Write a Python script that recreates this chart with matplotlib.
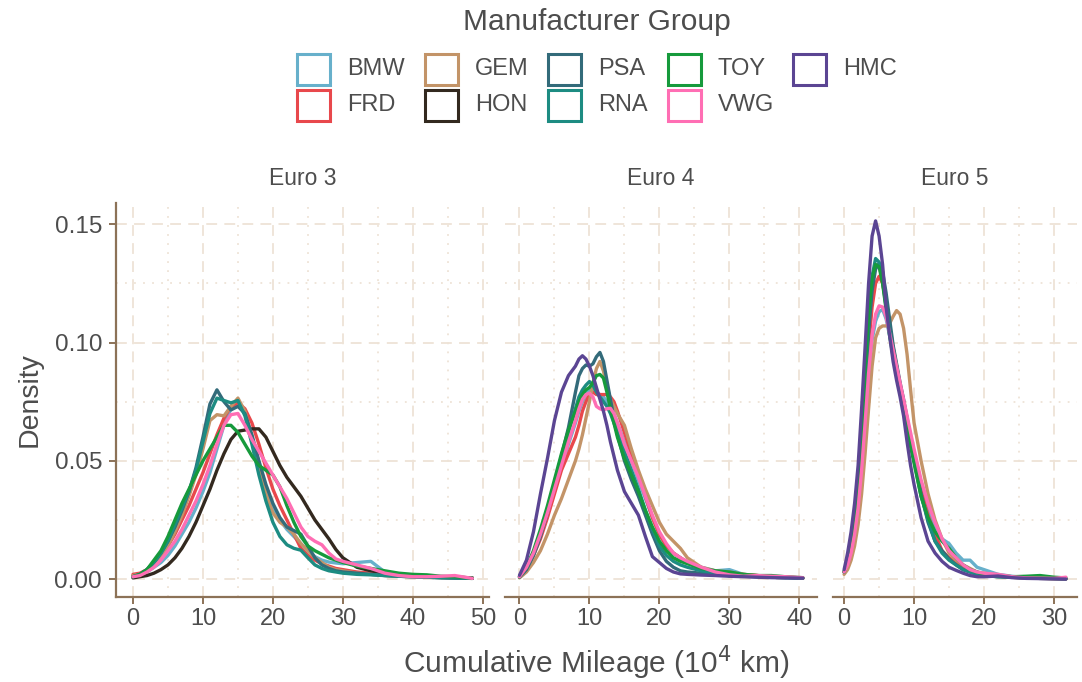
import matplotlib
matplotlib.use("Agg")
import matplotlib.pyplot as plt
from matplotlib.patches import Rectangle
from matplotlib.ticker import MultipleLocator

plt.rcParams['font.family'] = ['Liberation Sans', 'DejaVu Sans']

# ---------------- data ----------------
groups = ["BMW", "FRD", "GEM", "HON", "PSA", "RNA", "TOY", "VWG", "HMC"]
group_colors = ["#67B0CB", "#E8484C", "#C39468", "#33291F", "#336B7A",
                "#1D8C82", "#169A3C", "#FF6EB4", "#5B4593"]
panels = ["Euro 3", "Euro 4", "Euro 5"]

# Euro 3 (cumulative mileage, 10^4 km)
e3_x = [0, 1, 2, 3, 4, 5, 6, 7, 8, 9, 10, 11, 12, 13, 14, 15, 16, 17, 18, 19, 20,
        21, 22, 23, 24, 25, 26, 27, 28, 29, 30, 32, 34, 36, 38, 40, 42, 44, 46, 48.5]
e3_bmw = [0.001, 0.0015, 0.003, 0.005, 0.007, 0.010, 0.014, 0.019, 0.024, 0.030, 0.037,
          0.045, 0.055, 0.065, 0.072, 0.0745, 0.070, 0.060, 0.049, 0.038, 0.030, 0.025,
          0.021, 0.018, 0.015, 0.012, 0.0095, 0.008, 0.0072, 0.0068, 0.0065, 0.007,
          0.0075, 0.003, 0.0015, 0.001, 0.0008, 0.0006, 0.0005, 0.0003]
e3_frd = [0.002, 0.0025, 0.004, 0.007, 0.010, 0.014, 0.019, 0.025, 0.031, 0.038, 0.045,
          0.053, 0.061, 0.068, 0.073, 0.0745, 0.072, 0.066, 0.057, 0.047, 0.038, 0.031,
          0.025, 0.019, 0.013, 0.010, 0.008, 0.0065, 0.0055, 0.0045, 0.004, 0.003,
          0.0025, 0.002, 0.0015, 0.0012, 0.001, 0.0008, 0.0006, 0.0004]
e3_gem = [0.0015, 0.002, 0.003, 0.006, 0.009, 0.014, 0.020, 0.027, 0.035, 0.044, 0.055,
          0.067, 0.0695, 0.069, 0.073, 0.0765, 0.071, 0.060, 0.048, 0.036, 0.028, 0.024,
          0.022, 0.019, 0.015, 0.012, 0.009, 0.007, 0.005, 0.004, 0.0035, 0.0025,
          0.002, 0.0015, 0.0012, 0.001, 0.0008, 0.0006, 0.0005, 0.0003]
e3_hon = [0.0005, 0.001, 0.0015, 0.0025, 0.004, 0.006, 0.009, 0.013, 0.018, 0.024, 0.031,
          0.038, 0.046, 0.053, 0.059, 0.0625, 0.063, 0.0635, 0.0635, 0.060, 0.054, 0.048,
          0.043, 0.039, 0.035, 0.030, 0.025, 0.021, 0.017, 0.0125, 0.009, 0.005,
          0.0035, 0.0025, 0.002, 0.0015, 0.0012, 0.001, 0.0008, 0.0005]
e3_psa = [0.001, 0.002, 0.004, 0.007, 0.011, 0.016, 0.022, 0.029, 0.037, 0.047, 0.060,
          0.074, 0.080, 0.075, 0.0715, 0.073, 0.070, 0.061, 0.050, 0.040, 0.032, 0.026,
          0.022, 0.0205, 0.019, 0.014, 0.009, 0.006, 0.0045, 0.0035, 0.003, 0.0025,
          0.002, 0.0015, 0.0012, 0.001, 0.0008, 0.0006, 0.0004, 0.0003]
e3_rna = [0.001, 0.002, 0.004, 0.007, 0.011, 0.016, 0.023, 0.030, 0.037, 0.046, 0.058,
          0.070, 0.0765, 0.0755, 0.0745, 0.0755, 0.069, 0.057, 0.044, 0.033, 0.024, 0.018,
          0.0145, 0.013, 0.0122, 0.009, 0.006, 0.0045, 0.0035, 0.003, 0.0025, 0.002,
          0.0018, 0.0015, 0.0012, 0.001, 0.0008, 0.0006, 0.0005, 0.0003]
e3_toy = [0.001, 0.002, 0.004, 0.008, 0.012, 0.018, 0.025, 0.032, 0.038, 0.044, 0.050,
          0.055, 0.060, 0.065, 0.065, 0.062, 0.057, 0.052, 0.048, 0.046, 0.044, 0.039,
          0.031, 0.024, 0.018, 0.014, 0.012, 0.0105, 0.009, 0.008, 0.007, 0.0055,
          0.0045, 0.0035, 0.0025, 0.002, 0.0018, 0.0012, 0.001, 0.0004]
e3_vwg = [0.001, 0.0015, 0.003, 0.005, 0.008, 0.012, 0.016, 0.021, 0.027, 0.033, 0.040,
          0.048, 0.057, 0.065, 0.0695, 0.070, 0.065, 0.059, 0.054, 0.049, 0.044, 0.039,
          0.034, 0.028, 0.022, 0.018, 0.016, 0.0145, 0.011, 0.0085, 0.0075, 0.006,
          0.0045, 0.0025, 0.0015, 0.001, 0.001, 0.0012, 0.0015, 0.0003]

# Euro 4
e4_x = [0, 1, 2, 3, 4, 5, 6, 7, 8, 8.5, 9, 9.5, 10, 10.5, 11, 11.5, 12, 12.5, 13, 13.5,
        14, 15, 16, 17, 18, 19, 20, 21, 22, 23, 24, 26, 28, 30, 32, 34, 36, 38, 40.5]
e4_bmw = [0.001, 0.004, 0.010, 0.018, 0.027, 0.037, 0.047, 0.057, 0.066, 0.071, 0.075,
          0.078, 0.080, 0.080, 0.079, 0.078, 0.077, 0.075, 0.073, 0.070, 0.066, 0.058,
          0.050, 0.042, 0.034, 0.026, 0.019, 0.014, 0.011, 0.009, 0.007, 0.005, 0.0035,
          0.004, 0.002, 0.0015, 0.001, 0.0008, 0.0005]
e4_frd = [0.001, 0.004, 0.010, 0.017, 0.026, 0.036, 0.046, 0.053, 0.060, 0.065, 0.071,
          0.075, 0.078, 0.079, 0.078, 0.078, 0.078, 0.078, 0.077, 0.075, 0.071, 0.062,
          0.053, 0.044, 0.035, 0.026, 0.019, 0.014, 0.011, 0.009, 0.007, 0.0045, 0.003,
          0.0025, 0.002, 0.0015, 0.001, 0.0008, 0.0005]
e4_gem = [0.0005, 0.003, 0.007, 0.012, 0.019, 0.027, 0.034, 0.042, 0.050, 0.055, 0.061,
          0.068, 0.075, 0.083, 0.089, 0.092, 0.088, 0.081, 0.076, 0.073, 0.070, 0.065,
          0.055, 0.046, 0.038, 0.031, 0.024, 0.019, 0.016, 0.013, 0.009, 0.005, 0.0035,
          0.003, 0.002, 0.0015, 0.001, 0.0008, 0.0005]
e4_psa = [0.0008, 0.004, 0.010, 0.018, 0.028, 0.040, 0.052, 0.064, 0.079, 0.086, 0.089,
          0.0905, 0.090, 0.091, 0.094, 0.0958, 0.092, 0.084, 0.076, 0.068, 0.061, 0.050,
          0.042, 0.035, 0.027, 0.019, 0.012, 0.0075, 0.005, 0.0035, 0.003, 0.0025, 0.002,
          0.0015, 0.0012, 0.001, 0.0008, 0.0006, 0.0004]
e4_rna = [0.001, 0.005, 0.011, 0.019, 0.029, 0.040, 0.051, 0.062, 0.072, 0.077, 0.080,
          0.082, 0.0835, 0.082, 0.079, 0.077, 0.075, 0.073, 0.070, 0.066, 0.062, 0.054,
          0.046, 0.038, 0.029, 0.021, 0.014, 0.010, 0.0075, 0.006, 0.005, 0.0035, 0.0025,
          0.002, 0.0015, 0.001, 0.0008, 0.0006, 0.0004]
e4_toy = [0.001, 0.005, 0.012, 0.021, 0.031, 0.042, 0.053, 0.063, 0.071, 0.075, 0.078,
          0.080, 0.081, 0.083, 0.086, 0.0865, 0.085, 0.079, 0.072, 0.066, 0.060, 0.051,
          0.044, 0.037, 0.029, 0.022, 0.016, 0.012, 0.009, 0.0075, 0.0065, 0.0045,
          0.0035, 0.003, 0.002, 0.0015, 0.0015, 0.001, 0.0006]
e4_vwg = [0.001, 0.005, 0.011, 0.019, 0.028, 0.038, 0.048, 0.058, 0.067, 0.072, 0.076,
          0.078, 0.0786, 0.077, 0.073, 0.072, 0.0715, 0.072, 0.0722, 0.070, 0.066, 0.057,
          0.050, 0.043, 0.035, 0.027, 0.020, 0.015, 0.011, 0.009, 0.0075, 0.005, 0.003,
          0.0018, 0.0012, 0.0015, 0.0012, 0.001, 0.0006]
e4_hmc = [0.0016, 0.008, 0.020, 0.036, 0.051, 0.067, 0.079, 0.086, 0.090, 0.093, 0.0944,
          0.093, 0.090, 0.086, 0.081, 0.076, 0.071, 0.065, 0.058, 0.052, 0.046, 0.037,
          0.032, 0.027, 0.018, 0.0095, 0.007, 0.0045, 0.003, 0.0022, 0.002, 0.0017,
          0.0015, 0.0012, 0.001, 0.0008, 0.0006, 0.0005, 0.0004]

# Euro 5
e5_x = [0, 0.5, 1, 1.5, 2, 2.5, 3, 3.5, 4, 4.5, 5, 5.5, 6, 6.5, 7, 7.5, 8, 8.5, 9, 9.5,
        10, 11, 12, 13, 14, 15, 16, 17, 18, 19, 20, 22, 24, 26, 28, 30, 31.7]
e5_bmw = [0.003, 0.006, 0.011, 0.019, 0.030, 0.046, 0.066, 0.086, 0.101, 0.109, 0.113,
          0.114, 0.110, 0.103, 0.096, 0.089, 0.082, 0.075, 0.068, 0.060, 0.052, 0.039,
          0.029, 0.022, 0.017, 0.015, 0.011, 0.008, 0.008, 0.005, 0.004, 0.002, 0.0012,
          0.0006, 0.0003, 0.0002, 0.0001]
e5_frd = [0.003, 0.007, 0.013, 0.022, 0.034, 0.052, 0.075, 0.098, 0.115, 0.125, 0.128,
          0.125, 0.117, 0.107, 0.098, 0.090, 0.082, 0.075, 0.067, 0.059, 0.051, 0.037,
          0.027, 0.019, 0.012, 0.009, 0.007, 0.005, 0.0035, 0.0025, 0.002, 0.0012,
          0.0008, 0.0005, 0.0003, 0.0002, 0.0001]
e5_gem = [0.002, 0.004, 0.008, 0.014, 0.023, 0.036, 0.053, 0.072, 0.090, 0.102, 0.106,
          0.107, 0.107, 0.108, 0.111, 0.1135, 0.112, 0.106, 0.095, 0.080, 0.066, 0.050,
          0.036, 0.025, 0.017, 0.011, 0.008, 0.006, 0.0045, 0.003, 0.0025, 0.0015,
          0.001, 0.0006, 0.0004, 0.0002, 0.0001]
e5_psa = [0.003, 0.007, 0.013, 0.022, 0.036, 0.056, 0.080, 0.104, 0.122, 0.131, 0.1335,
          0.130, 0.121, 0.110, 0.099, 0.091, 0.083, 0.076, 0.068, 0.059, 0.051, 0.036,
          0.024, 0.016, 0.012, 0.0085, 0.006, 0.004, 0.003, 0.002, 0.0015, 0.001,
          0.0008, 0.0005, 0.0003, 0.0002, 0.0001]
e5_rna = [0.003, 0.008, 0.015, 0.025, 0.040, 0.060, 0.085, 0.110, 0.128, 0.1355, 0.134,
          0.126, 0.115, 0.105, 0.097, 0.090, 0.082, 0.075, 0.066, 0.058, 0.050, 0.035,
          0.025, 0.016, 0.011, 0.008, 0.006, 0.004, 0.003, 0.002, 0.0015, 0.001,
          0.0008, 0.0005, 0.0004, 0.0003, 0.0002]
e5_toy = [0.003, 0.008, 0.015, 0.025, 0.040, 0.062, 0.088, 0.112, 0.127, 0.133, 0.132,
          0.125, 0.114, 0.103, 0.094, 0.087, 0.080, 0.072, 0.064, 0.056, 0.049, 0.035,
          0.026, 0.020, 0.016, 0.013, 0.009, 0.006, 0.004, 0.003, 0.002, 0.0015, 0.001,
          0.0012, 0.0015, 0.0008, 0.0005]
e5_vwg = [0.003, 0.006, 0.011, 0.019, 0.030, 0.046, 0.066, 0.087, 0.103, 0.112, 0.1155,
          0.115, 0.111, 0.104, 0.097, 0.090, 0.083, 0.076, 0.069, 0.062, 0.055, 0.042,
          0.032, 0.024, 0.017, 0.012, 0.009, 0.006, 0.004, 0.003, 0.0025, 0.002, 0.001,
          0.0005, 0.0004, 0.0003, 0.0008]
e5_hmc = [0.004, 0.011, 0.020, 0.032, 0.048, 0.072, 0.098, 0.125, 0.145, 0.1514, 0.145,
          0.133, 0.115, 0.103, 0.092, 0.084, 0.077, 0.069, 0.058, 0.048, 0.040, 0.026,
          0.016, 0.011, 0.0075, 0.005, 0.0037, 0.0025, 0.0015, 0.001, 0.001, 0.0013,
          0.0006, 0.0003, 0.0002, 0.0001, 0.0]

panel_data = [
    (e3_x, {"BMW": e3_bmw, "FRD": e3_frd, "GEM": e3_gem, "HON": e3_hon, "PSA": e3_psa,
            "RNA": e3_rna, "TOY": e3_toy, "VWG": e3_vwg}),
    (e4_x, {"BMW": e4_bmw, "FRD": e4_frd, "GEM": e4_gem, "PSA": e4_psa, "RNA": e4_rna,
            "TOY": e4_toy, "VWG": e4_vwg, "HMC": e4_hmc}),
    (e5_x, {"BMW": e5_bmw, "FRD": e5_frd, "GEM": e5_gem, "PSA": e5_psa, "RNA": e5_rna,
            "TOY": e5_toy, "VWG": e5_vwg, "HMC": e5_hmc}),
]

# ---------------- styling ----------------
W, H, DPI = 1082, 682, 100
AXIS_COL = "#8C7257"
GRID_COL = "#EEE3D7"
TEXT_COL = "#4D4D4D"
color_of = dict(zip(groups, group_colors))

fig = plt.figure(figsize=(W / DPI, H / DPI), dpi=DPI)

def fx(px):
    return px / W

def fy(py):
    return 1 - py / H

# panel geometry (pixels) with widths proportional to each x range
left_px, right_px, top_px, bottom_px, gap_px = 116, 1077, 203, 597, 16
spans = []
for xs, _ in panel_data:
    r = max(xs) - min(xs)
    spans.append((min(xs) - 0.05 * r, max(xs) + 0.05 * r))
total_units = sum(b - a for a, b in spans)
usable = right_px - left_px - gap_px * (len(spans) - 1)

ymax = max(max(v) for _, d in panel_data for v in d.values())
ylim = (-0.05 * ymax, 1.05 * ymax)

x0 = left_px
axes = []
for i, ((xs, series), (lo, hi)) in enumerate(zip(panel_data, spans)):
    wpx = usable * (hi - lo) / total_units
    ax = fig.add_axes([fx(x0), fy(bottom_px), wpx / W, (bottom_px - top_px) / H])
    axes.append(ax)
    x0 += wpx + gap_px

    ax.set_xlim(lo, hi)
    ax.set_ylim(*ylim)
    ax.xaxis.set_major_locator(MultipleLocator(10))
    ax.xaxis.set_minor_locator(MultipleLocator(5))
    ax.yaxis.set_major_locator(MultipleLocator(0.05))
    ax.yaxis.set_minor_locator(MultipleLocator(0.025))
    ax.grid(True, which="major", color=GRID_COL, lw=1.3, ls=(0, (6, 4)))
    ax.grid(True, which="minor", color=GRID_COL, lw=1.3, ls=(0, (1, 4)))
    ax.set_axisbelow(True)

    for s in ("top", "right"):
        ax.spines[s].set_visible(False)
    ax.spines["bottom"].set_color(AXIS_COL)
    ax.spines["bottom"].set_linewidth(1.6)
    ax.spines["left"].set_color(AXIS_COL)
    ax.spines["left"].set_linewidth(1.6)
    ax.tick_params(axis="x", which="major", length=5, width=1.4, color=AXIS_COL,
                   labelsize=17, labelcolor=TEXT_COL, pad=3)
    ax.tick_params(which="minor", length=0)
    ax.set_xticklabels([f"{int(t)}" for t in ax.get_xticks()])
    if i == 0:
        ax.tick_params(axis="y", which="major", length=5, width=1.4, color=AXIS_COL,
                       labelsize=17.5, labelcolor=TEXT_COL, pad=5)
        ax.yaxis.set_major_formatter(plt.FuncFormatter(lambda v, _: f"{v:.2f}"))
    else:
        ax.spines["left"].set_visible(False)
        ax.tick_params(axis="y", which="both", length=0, labelleft=False)

    for g in groups:
        if g in series:
            ax.plot(xs, series[g], color=color_of[g], lw=2.4, solid_capstyle="round",
                    solid_joinstyle="round")

    ax.set_title(panels[i], fontsize=16.5, color=TEXT_COL, pad=13)

# axis titles
fig.text(fx(30), fy((top_px + bottom_px) / 2), "Density", rotation=90,
         ha="center", va="center", fontsize=20.5, color=TEXT_COL)
fig.text(fx((left_px + right_px) / 2), fy(663), "Cumulative Mileage (10$^4$ km)",
         ha="center", va="center", fontsize=21.5, color=TEXT_COL)

# legend
fig.text(fx(597), fy(22), "Manufacturer Group", ha="center", va="center",
         fontsize=21.5, color=TEXT_COL)
col_x = [295, 423, 546, 666, 791]
row_y = [52, 88]
box_w, box_h = 36, 34
for k, g in enumerate(groups):
    c, r = divmod(k, 2)
    bx, by = col_x[c], row_y[r]
    fig.patches.append(Rectangle((fx(bx + 1.5), fy(by + box_h - 1.5)), (box_w - 3) / W,
                                 (box_h - 3) / H, transform=fig.transFigure,
                                 facecolor="white", edgecolor=color_of[g], lw=2.2))
    fig.text(fx(bx + box_w + 16), fy(by + box_h / 2), g, ha="left", va="center",
             fontsize=17, color=TEXT_COL)

fig.savefig("out.png", dpi=DPI, facecolor="white")
